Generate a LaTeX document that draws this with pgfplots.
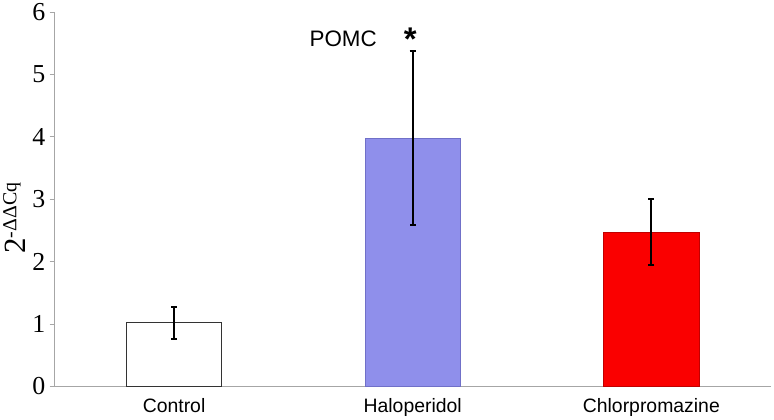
\documentclass[border=0pt]{standalone}
\usepackage{fontspec}
\setmainfont{Liberation Serif}
\newfontfamily\arial{Liberation Sans}
\usepackage{pgfplots}
\pgfplotsset{compat=1.18}
\definecolor{axgray}{HTML}{A6A6A6}
\definecolor{halo}{HTML}{8F8FEB}
\definecolor{halob}{HTML}{7070C8}
\definecolor{chlor}{HTML}{FA0000}
\definecolor{chlorb}{HTML}{C00000}
\pgfplotsset{myerr/.style={error bars/.cd, y dir=both, y explicit,
  error bar style={line width=2.2bp, draw=black, solid},
  error mark options={line width=2bp, mark size=3bp, rotate=90, draw=black}}}
\begin{document}
\begin{tikzpicture}
\begin{axis}[
  scale only axis,
  width=717bp, height=375bp,
  xmin=-0.5, xmax=2.5,
  ymin=0, ymax=6,
  ytick={0,1,2,3,4,5,6},
  xtick={0,1,2},
  xticklabels={Control,Haloperidol,Chlorpromazine},
  major x tick style={draw=none},
  extra x ticks={0.5,1.5,2.5},
  extra x tick labels={},
  extra x tick style={major tick length=5bp, tick style={draw=axgray, line width=0.8bp}, tick align=outside},
  axis x line=bottom, axis y line=left,
  axis line style={-, draw=axgray, line width=0.8bp},
  y tick style={draw=axgray, line width=0.8bp},
  tick align=outside,
  major tick length=5bp,
  /pgf/number format/assume math mode=true,
  yticklabel style={font=\fontsize{26}{26}\selectfont, xshift=-1bp},
  xticklabel style={font=\arial\fontsize{19.5}{19.5}\selectfont, yshift=-3bp},
  ylabel={\fontsize{31}{31}\selectfont 2\textsuperscript{\fontsize{20}{20}\selectfont -ΔΔCq}},
  ylabel style={at={(ticklabel cs:0.45)}},
  bar width=0.4,
  clip=false,
]
\addplot[ybar, fill=white, draw=black!80, line width=1.2bp, myerr]
  coordinates {(0,1.02) +- (0,0.26)};
\addplot[ybar, fill=halo, draw=halob, line width=0.8bp, myerr]
  coordinates {(1,3.98) +- (0,1.39)};
\addplot[ybar, fill=chlor, draw=chlorb, line width=0.8bp, myerr]
  coordinates {(2,2.47) +- (0,0.53)};
\node[font=\arial\fontsize{22.5}{22.5}\selectfont, anchor=base east] at (axis cs:0.864,5.44) {POMC};
\node[font=\arial\bfseries\fontsize{33}{33}\selectfont, anchor=base] at (axis cs:0.99,5.38) {*};
\end{axis}
\end{tikzpicture}
\end{document}
